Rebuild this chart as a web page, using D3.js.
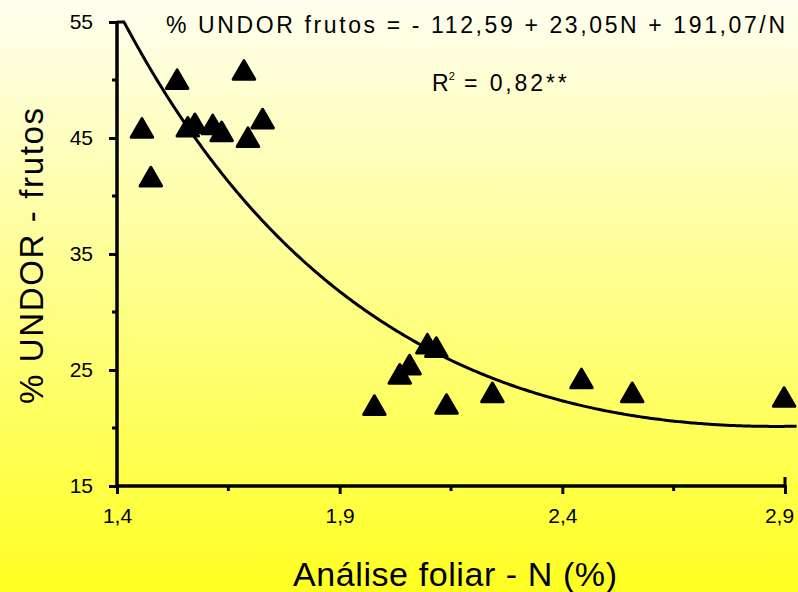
<!DOCTYPE html>
<head>
  <style>
    body { margin: 0; }
    text { font-family: "Liberation Sans", Arial, sans-serif; }
  </style>
</head>
<body>
  <script src="https://cdn.jsdelivr.net/npm/d3@7"></script>
  <script>
    // data
    var nValues = [1.456, 1.476, 1.535, 1.559, 1.575, 1.615, 1.635, 1.685, 1.694, 1.727,
                   1.978, 2.035, 2.057, 2.097, 2.117, 2.140, 2.243, 2.443, 2.557, 2.898]
    var undorValues = [45.6, 41.4, 49.8, 45.7, 46.0, 45.9, 45.3, 50.6, 44.8, 46.4,
                       21.7, 24.4, 25.2, 27.0, 26.7, 21.8, 22.8, 24.0, 22.8, 22.4]
    var xTicks = [1.4, 1.9, 2.4, 2.9]
    var xMinor = [1.65, 2.15, 2.65]
    var yTicks = [15, 25, 35, 45, 55]
    var yMinor = [20, 30, 40, 50]
    var coef = [-112.59, 23.05, 191.07]   // a + bN + c/N

    var w = 798, h = 592

    var x = d3.scaleLinear().domain([1.4, 2.9]).range([117, 785])
    var y = d3.scaleLinear().domain([15, 55]).range([486, 22])

    var svg = d3.select("body").append("svg")
        .attr("width", w).attr("height", h)

    // background gradient
    var grad = svg.append("defs").append("linearGradient")
        .attr("id", "bg").attr("x1", 0).attr("y1", 0).attr("x2", 0).attr("y2", 1)
    grad.append("stop").attr("offset", "0%").attr("stop-color", "#fefef0")
    grad.append("stop").attr("offset", "100%").attr("stop-color", "#ffff22")
    svg.append("rect").attr("width", w).attr("height", h).attr("fill", "url(#bg)")

    var fmt = function(d) { return String(d).replace(".", ",") }

    // axes
    var xAxis = d3.axisBottom(x).tickValues(xTicks).tickSize(8).tickFormat(fmt)
    var gx = svg.append("g").attr("transform", "translate(0," + y(15) + ")").call(xAxis)
    gx.select(".domain").attr("d", "M" + x(1.4) + ",0H" + x(2.9)).attr("stroke-width", 3.5)
    gx.selectAll(".tick line").attr("stroke-width", 3).attr("y1", -1)
    gx.selectAll(".tick text").attr("font-size", 21).attr("y", 22).attr("dy", "0.7em")
        .attr("fill", "#000")
        .attr("x", function(d) { return d === 2.9 ? -6 : 0 })
    gx.selectAll(".minor").data(xMinor).enter().append("line")
        .attr("x1", x).attr("x2", x).attr("y1", 0).attr("y2", 5)
        .attr("stroke", "#000").attr("stroke-width", 3)
    gx.append("line").attr("x1", x(2.9)).attr("x2", x(2.9)).attr("y1", -9).attr("y2", 0)
        .attr("stroke", "#000").attr("stroke-width", 3)

    var yAxis = d3.axisLeft(y).tickValues(yTicks).tickSize(8)
    var gy = svg.append("g").attr("transform", "translate(" + x(1.4) + ",0)").call(yAxis)
    gy.select(".domain").attr("d", "M0," + y(15) + "V" + y(55)).attr("stroke-width", 3.5)
    gy.selectAll(".tick line").attr("stroke-width", 3)
    gy.selectAll(".tick text").attr("font-size", 21).attr("x", -24).attr("fill", "#000")
    gy.selectAll(".minor").data(yMinor).enter().append("line")
        .attr("y1", y).attr("y2", y).attr("x1", 0).attr("x2", -5)
        .attr("stroke", "#000").attr("stroke-width", 3)
    gy.append("line").attr("y1", y(55)).attr("y2", y(55)).attr("x1", 0).attr("x2", 8)
        .attr("stroke", "#000").attr("stroke-width", 3)

    // fitted curve
    var f = function(n) { return coef[0] + coef[1] * n + coef[2] / n }
    var curveN = d3.range(1.416, 2.93, 0.005)
    svg.append("path")
        .datum(curveN)
        .attr("fill", "none").attr("stroke", "#000").attr("stroke-width", 3)
        .attr("d", d3.line().x(function(d) { return x(d) }).y(function(d) { return y(f(d)) }))

    // points
    var tri = d3.symbol().type(d3.symbolTriangle).size(200)
    svg.selectAll(".pt").data(nValues).enter().append("path")
        .attr("d", tri)
        .attr("transform", function(d, i) { return "translate(" + x(d) + "," + y(undorValues[i]) + ")" })
        .attr("fill", "#000").attr("stroke", "#000").attr("stroke-width", 3)
        .attr("stroke-linejoin", "round")

    // texts
    svg.append("text").attr("x", 166).attr("y", 33).attr("font-size", 23)
        .attr("textLength", 619).attr("lengthAdjust", "spacing")
        .text("% UNDOR  frutos =  - 112,59 + 23,05N + 191,07/N")
    var r2 = svg.append("text").attr("x", 432).attr("y", 91).attr("font-size", 23)
    r2.append("tspan").text("R")
    r2.append("tspan").attr("font-size", 11).attr("dy", -11).text("2")
    r2.append("tspan").attr("dy", 11).attr("textLength", 112).attr("lengthAdjust", "spacing")
        .text(" = 0,82**")

    svg.append("text").attr("text-anchor", "middle")
        .attr("transform", "translate(43,256) rotate(-90)")
        .attr("font-size", 33).attr("textLength", 296).attr("lengthAdjust", "spacing")
        .text("% UNDOR - frutos")

    svg.append("text").attr("text-anchor", "middle")
        .attr("x", 455).attr("y", 586).attr("font-size", 34)
        .attr("textLength", 324).attr("lengthAdjust", "spacing")
        .text("Análise foliar - N (%)")
  </script>
</body>
